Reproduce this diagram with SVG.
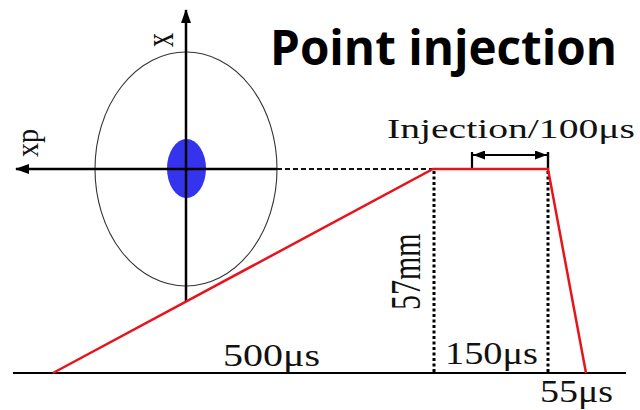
<svg xmlns="http://www.w3.org/2000/svg" width="640" height="410" viewBox="0 0 640 410">
<style>
.serif{font-family:"Liberation Serif","Times New Roman",serif;fill:#111}
.title{font-family:"Open Sans","Noto Sans",sans-serif;font-weight:bold;fill:#000}
.ax{stroke:#000;stroke-width:2.5;fill:none}
.dot{stroke:#000;stroke-width:3;stroke-dasharray:3 2.5;fill:none}
.red{stroke:#e8141c;stroke-width:2.5;fill:none;stroke-linejoin:miter}
</style>
<defs>
<marker id="ah" viewBox="0 0 14 10" refX="13" refY="5" markerWidth="14" markerHeight="10" markerUnits="userSpaceOnUse" orient="auto">
<path d="M0,0 L14,5 L0,10 Z" fill="#000"/>
</marker>
<marker id="ah2" viewBox="0 0 12 9" refX="12" refY="4.5" markerWidth="12" markerHeight="9" markerUnits="userSpaceOnUse" orient="auto-start-reverse">
<path d="M0,0 L12,4.5 L0,9 Z" fill="#000"/>
</marker>
</defs>
<rect width="640" height="410" fill="#fff"/>
<g id="phase-space">
<ellipse cx="186" cy="169" rx="91" ry="117" fill="none" stroke="#333" stroke-width="1.1"/>
<ellipse cx="186.5" cy="168.5" rx="19.5" ry="29.5" fill="#3434ee"/>
</g>
<g id="connectors">
<line class="ax" x1="186" y1="302" x2="186" y2="10" marker-end="url(#ah)"/>
<line class="ax" x1="277" y1="169" x2="16" y2="169" stroke-width="2.2" marker-end="url(#ah)"/>
<line x1="277" y1="169" x2="433" y2="169" stroke="#111" stroke-width="2" stroke-dasharray="5 3"/>
<line x1="13" y1="373" x2="626" y2="373" stroke="#000" stroke-width="2.2"/>
<line class="dot" x1="434" y1="171" x2="434" y2="372"/>
<line class="dot" x1="548" y1="171" x2="548" y2="372"/>
<line x1="472" y1="152" x2="472" y2="169" stroke="#000" stroke-width="2.2"/>
<line x1="548" y1="152" x2="548" y2="169" stroke="#000" stroke-width="2.4"/>
<line x1="473" y1="155" x2="547" y2="155" stroke="#000" stroke-width="2" marker-start="url(#ah2)" marker-end="url(#ah2)"/>
<polyline class="red" points="53,373 433,169 548,169 586,373"/>
</g>
<g id="labels">
<text class="title" x="270" y="65" font-size="48" textLength="347" lengthAdjust="spacingAndGlyphs">Point injection</text>
<text class="serif" x="387" y="138" font-size="27" textLength="248" lengthAdjust="spacingAndGlyphs">Injection/100μs</text>
<text class="serif" x="223" y="366" font-size="31" textLength="97" lengthAdjust="spacingAndGlyphs">500μs</text>
<text class="serif" x="445" y="364" font-size="31" textLength="93" lengthAdjust="spacingAndGlyphs">150μs</text>
<text class="serif" x="540" y="402" font-size="31" textLength="73" lengthAdjust="spacingAndGlyphs">55μs</text>
<text class="serif" font-size="30" transform="translate(420,310) scale(1.4,1) rotate(-90)">57mm</text>
<text class="serif" font-size="28" transform="translate(173,47) scale(1.4,1) rotate(-90)">x</text>
<text class="serif" font-size="28" transform="translate(38,157) scale(1.1,1) rotate(-90)">xp</text>
</g>
</svg>
